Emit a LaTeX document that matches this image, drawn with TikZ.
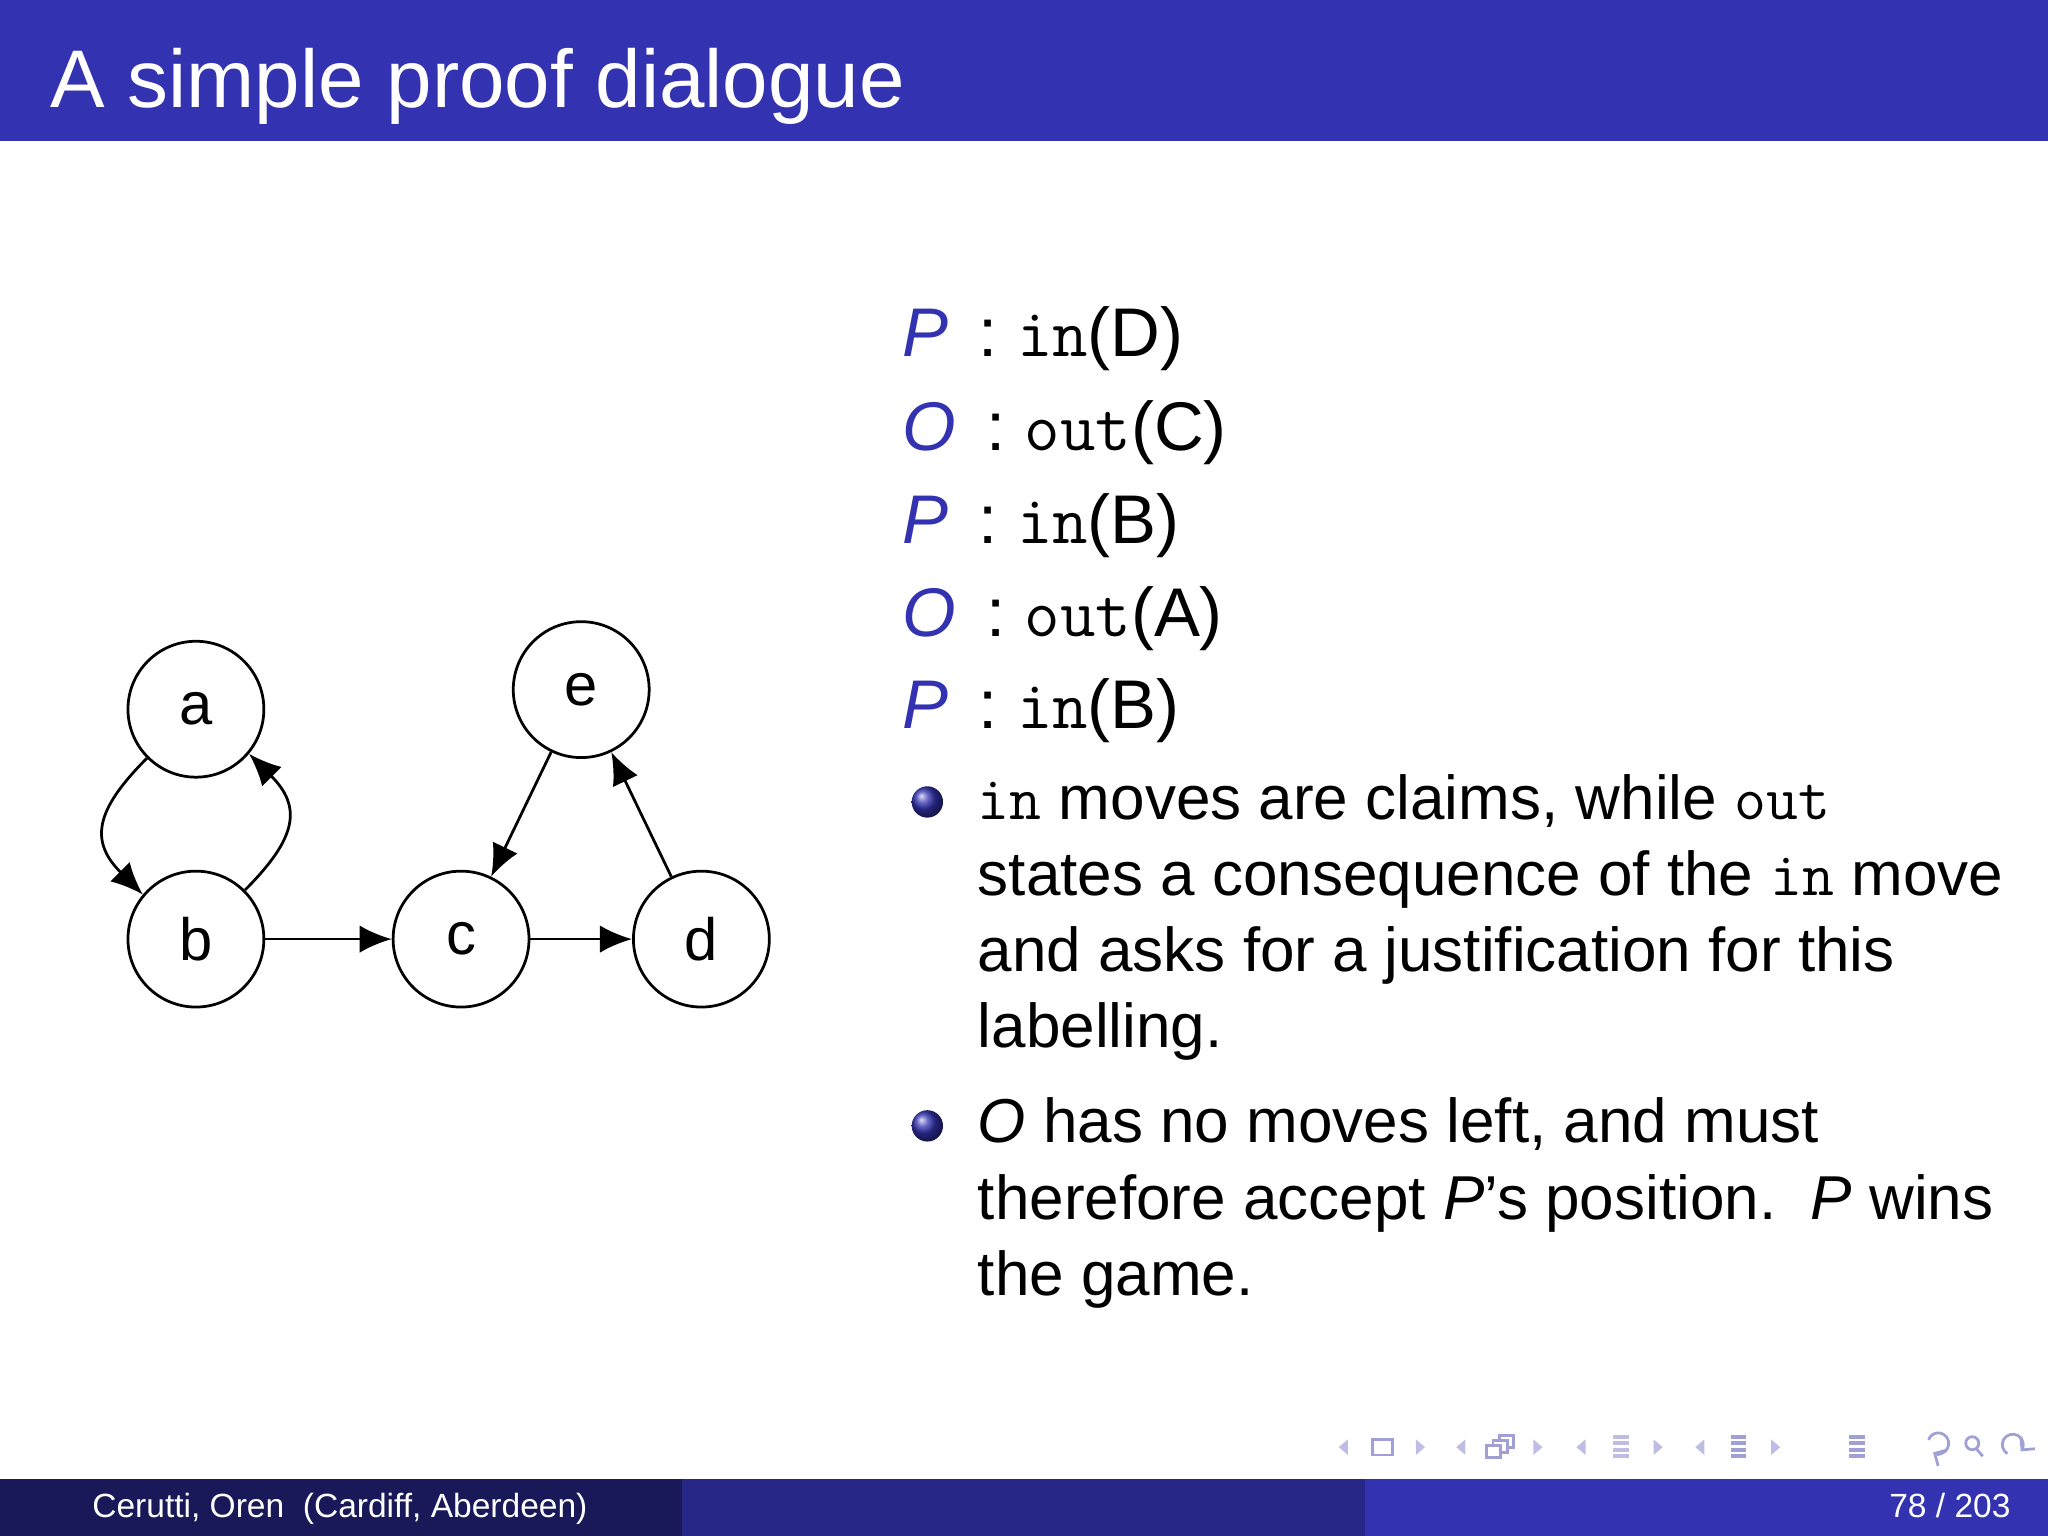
\documentclass[tikz,border=0pt]{standalone}
\usepackage{fontspec}
\setmainfont{Liberation Sans}
\usetikzlibrary{arrows.meta}
\definecolor{bm}{RGB}{51,51,178}
\definecolor{bmd}{RGB}{25,25,89}
\definecolor{bmm}{RGB}{38,38,134}
\definecolor{nav}{RGB}{190,190,228}
\definecolor{navd}{RGB}{160,160,214}
\begin{document}
\begin{tikzpicture}[x=0.01cm,y=-0.01cm,
  st/.style={circle,draw,line width=0.6pt,minimum size=1.04cm,inner sep=0pt,font=\fontsize{13}{13}\selectfont},
  ar/.style={-{Latex[length=7pt,width=6pt]},line width=0.6pt},
  mv/.style={anchor=base west,font=\fontsize{15}{15}\selectfont},
  bt/.style={anchor=north west,align=left,font=\fontsize{13.5}{16.6}\selectfont,inner sep=0pt},
  ball/.style={circle,ball color=bm,minimum size=0.24cm,inner sep=0pt}]
\useasboundingbox (0,0) rectangle (1568,1176);
\fill[bm] (0,0) rectangle (1568,108);
\node[anchor=base west,text=white,font=\fontsize{17.8}{18}\selectfont,inner sep=0pt] (title) at (38,82) {A simple proof dialogue};
\fill[bmd] (0,1132) rectangle (522,1176);
\fill[bmm] (522,1132) rectangle (1045,1176);
\fill[bm] (1045,1132) rectangle (1568,1176);
\node[anchor=base west,text=white,font=\fontsize{7.3}{7.5}\selectfont,inner sep=0pt] (ft) at (70,1162) {Cerutti, Oren\ \ (Cardiff, Aberdeen)};
\node[anchor=base east,text=white,font=\fontsize{7.3}{7.5}\selectfont,inner sep=0pt] (pg) at (1540,1162) {78 / 203};
% navigation symbols
\foreach \x in {1028,1118,1210,1301} \fill[nav] (\x+4,1102) -- (\x-3,1108) -- (\x+4,1114) -- cycle;
\foreach \x in {1088,1178,1270,1360} \fill[nav] (\x-4,1102) -- (\x+3,1108) -- (\x-4,1114) -- cycle;
\draw[navd,line width=0.6pt] (1051,1102) rectangle (1066,1114);
\draw[navd,line width=0.6pt,fill=white] (1148,1099) rectangle (1159,1108);
\draw[navd,line width=0.6pt,fill=white] (1143,1103) rectangle (1154,1112);
\draw[navd,line width=0.6pt,fill=white] (1138,1107) rectangle (1149,1116);
\foreach \x/\c in {1241/nav,1331/navd,1422/navd}{
  \foreach \yy in {1100,1105,1110,1115} \draw[\c,line width=0.9pt] (\x-6,\yy) -- (\x+6,\yy);}
\draw[navd,line width=0.6pt,{Straight Barb[length=2pt]}-] (1480,1112) arc[start angle=120,end angle=-160,radius=8];
\draw[navd,line width=0.6pt] (1510,1105) circle[radius=5] (1513,1109) -- (1518,1115);
\draw[navd,line width=0.6pt,-{Straight Barb[length=2pt]}] (1537,1113) arc[start angle=-240,end angle=40,radius=8];
% graph
\node[st] (a) at (150,543) {a};
\node[st] (b) at (150,719) {b};
\node[st] (c) at (353,719) {c};
\node[st] (d) at (537,719) {d};
\node[st] (e) at (445,528) {e};
\draw[ar] (b) -- (c);
\draw[ar] (c) -- (d);
\draw[ar] (d) -- (e);
\draw[ar] (e) -- (c);
\draw[ar] (a.225) to[out=225,in=135,looseness=1.4] (b.140);
\draw[ar] (b.45) to[out=45,in=-45,looseness=1.4] (a.-40);
% moves
\foreach \pl/\m/\arg/\y [count=\i] in {P/in/D/257,O/out/C/329,P/in/B/400,O/out/A/471,P/in/B/542}{
  \node[mv,inner sep=0pt] (m\i) at (690,\y+16) {\textcolor{bm}{\itshape\pl}\, : \texttt{\m}(\arg)};
}
\node[ball] (b1) at (710,614) {};
\node[bt] (t1) at (748,592) {\texttt{in} moves are claims, while \texttt{out}\\ states a consequence of the \texttt{in} move\\ and asks for a justification for this\\ labelling.};
\node[ball] (b2) at (710,862) {};
\node[bt] (t2) at (748,840) {\textit{O} has no moves left, and must\\ therefore accept \textit{P}’s position.\ \ \textit{P} wins\\ the game.};
\end{tikzpicture}
\end{document}
